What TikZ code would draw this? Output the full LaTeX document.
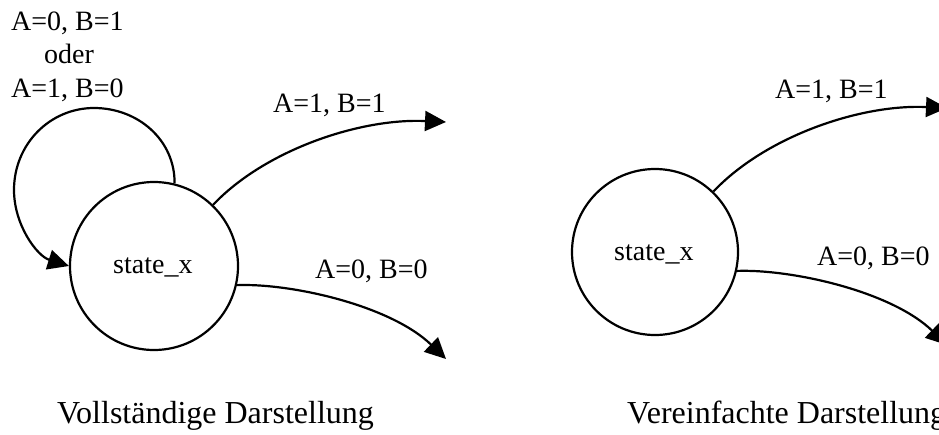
\documentclass[tikz,border=0pt]{standalone}
\usepackage{fontspec}
\setmainfont{Liberation Serif}
\usetikzlibrary{arrows.meta}
\tikzset{
  stnode/.style={circle,draw,line width=2.2pt,minimum size=168pt,inner sep=0pt,font=\fontsize{28}{28}\selectfont},
  lbl/.style={inner sep=0pt,font=\fontsize{28}{28}\selectfont},
  captxt/.style={inner sep=0pt,font=\fontsize{32}{32}\selectfont,anchor=base west},
  tr/.style={line width=2.2pt,-{Triangle[length=21pt,width=20pt]}}
}
\begin{document}
\begin{tikzpicture}[x=1pt,y=-1pt]
\useasboundingbox (0,0) rectangle (939,434);
\clip (0,0) rectangle (939,434);
% left panel
\node[stnode] (L) at (154,266) {};
\node[lbl,anchor=base west] (Ls) at (113,273) {state\_x};
\node[lbl,anchor=base west] (l1) at (11,30) {A=0, B=1};
\node[lbl,anchor=base] (l2) at (69,63) {oder};
\node[lbl,anchor=base west] (l3) at (11,97) {A=1, B=0};
\node[lbl,anchor=base west] (l4) at (273,112) {A=1, B=1};
\node[lbl,anchor=base west] (l5) at (315,278) {A=0, B=0};
\node[captxt] (c1) at (57,423) {Vollständige Darstellung};
\coordinate (Lt) at (446,122);
\coordinate (Lb) at (446,359);
\draw[tr] (L.76) .. controls (175,140) and (138,108) .. (94,108)
  .. controls (50,108) and (14,144) .. (14,190)
  .. controls (14,225) and (37,256) .. (L.180);
\draw[tr] (L.46) .. controls (265,150) and (360,118) .. (Lt);
\draw[tr] (L.-13) .. controls (290,283) and (390,305) .. (Lb);
% right panel
\node[stnode,minimum size=166pt] (R) at (655,252) {};
\node[lbl,anchor=base west] (Rs) at (614,260) {state\_x};
\node[lbl,anchor=base west] (r4) at (775,98) {A=1, B=1};
\node[lbl,anchor=base west] (r5) at (817,265) {A=0, B=0};
\node[captxt] (c2) at (627,423) {Vereinfachte Darstellung};
\coordinate (Rt) at (947,108);
\coordinate (Rb) at (947,345);
\draw[tr] (R.46) .. controls (766,136) and (861,104) .. (Rt);
\draw[tr] (R.-13) .. controls (791,269) and (891,291) .. (Rb);
\end{tikzpicture}
\end{document}
